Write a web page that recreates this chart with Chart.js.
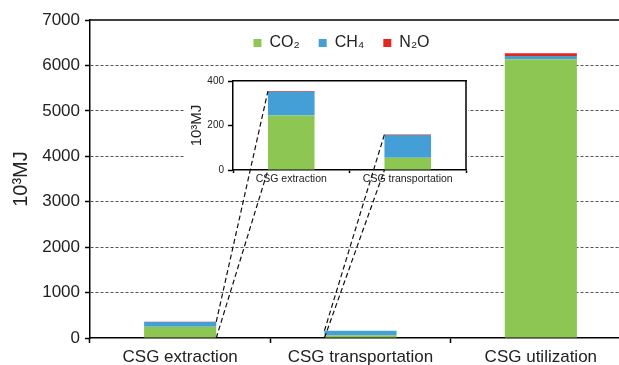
<!DOCTYPE html>
<html>
<head>
<meta charset="utf-8">
<script src="https://cdn.jsdelivr.net/npm/chart.js@4"></script>
<style>
  body { margin: 0; background: #fff; overflow: hidden; }
  #wrap { position: relative; width: 619px; height: 365px; overflow: hidden; }
  #wrap canvas { position: absolute; left: 0; top: 0; }
</style>
</head>
<body>
<div id="wrap">
  <canvas id="mainChart" width="640" height="365"></canvas>
  <canvas id="insetChart" width="640" height="365"></canvas>
</div>
<script>
// data (10^3 MJ)
const categories = ['CSG extraction', 'CSG transportation', 'CSG utilization'];
const co2 = [245, 55, 6135];
const ch4 = [107, 102, 72];
const n2o = [3, 3, 60];
const seriesNames = ['CO\u2082', 'CH\u2084', 'N\u2082O'];
const mainTicks = { min: 0, max: 7000, step: 1000 };
const insetTicks = { min: 0, max: 400, step: 200 };
const insetCount = 2; // inset zooms into first two categories

const colors = ['#8dc653', '#439fd6', '#e3261f'];
const FONT = "'Liberation Sans', Arial, sans-serif";
Chart.defaults.font.family = FONT;
Chart.defaults.color = '#222';

function makeDatasets(n) {
  return [co2, ch4, n2o].map((vals, i) => ({
    label: seriesNames[i],
    data: vals.slice(0, n),
    backgroundColor: colors[i],
    borderWidth: 0,
    barPercentage: 1,
    categoryPercentage: 0.4
  }));
}

const plainNumber = (v) => String(v);

// solid frame lines (top / right) of a chart area
const framePlugin = {
  id: 'frame',
  afterDraw(chart, args, opts) {
    const { ctx, chartArea: a } = chart;
    ctx.save();
    ctx.strokeStyle = '#000';
    ctx.lineWidth = 1.5;
    ctx.beginPath();
    if (opts.top) { ctx.moveTo(a.left, a.top); ctx.lineTo(a.right, a.top); }
    if (opts.right) { ctx.moveTo(a.right, a.top); ctx.lineTo(a.right, a.bottom); }
    ctx.stroke();
    ctx.restore();
  }
};

const mainChart = new Chart(document.getElementById('mainChart'), {
  type: 'bar',
  data: { labels: categories, datasets: makeDatasets(categories.length) },
  options: {
    responsive: false,
    animation: false,
    layout: { padding: { left: 9, right: 9, top: 20, bottom: 0 } },
    plugins: {
      legend: { display: false },
      tooltip: { enabled: false },
      frame: { top: true }
    },
    scales: {
      x: {
        stacked: true,
        afterFit: (s) => { s.height = 27; },
        grid: { drawOnChartArea: false, tickLength: 5, tickColor: '#000', tickWidth: 1.5 },
        border: { color: '#000', width: 1.5 },
        ticks: { font: { size: 17 }, padding: 4, color: '#222' }
      },
      y: {
        stacked: true,
        min: mainTicks.min,
        max: mainTicks.max,
        afterFit: (s) => { s.width = 81; },
        title: { display: true, text: '10\u00b3MJ', font: { size: 20 }, padding: 0, color: '#222' },
        ticks: { stepSize: mainTicks.step, font: { size: 17 }, padding: 5, color: '#222', callback: plainNumber },
        grid: {
          color: (c) => (c.tick && (c.tick.value === mainTicks.max || c.tick.value === 0)) ? 'rgba(0,0,0,0)' : '#555',
          lineWidth: 1,
          tickLength: 5,
          tickColor: '#000',
          tickWidth: 1.5
        },
        border: { color: '#000', width: 1.5, dash: [3, 2] }
      }
    }
  },
  plugins: [framePlugin]
});

// white panel behind the inset + dashed connectors to the main bars
const insetPlugin = {
  id: 'insetBox',
  afterLayout(chart) {
    // nudge the legend a little left, like the original
    chart.legend.left -= 8;
    chart.legend.right -= 8;
  },
  beforeDraw(chart) {
    const { ctx, chartArea: a, scales } = chart;
    ctx.save();
    ctx.fillStyle = '#fff';
    const left = scales.y.left - 4;
    const top = a.top - 12;
    ctx.fillRect(left, top, a.right + 2 - left, scales.x.bottom + 4 - top);
    ctx.restore();
  },
  afterDraw(chart) {
    const { ctx } = chart;
    const last = mainChart.data.datasets.length - 1;
    const m0 = mainChart.getDatasetMeta(0).data;
    const mTop = mainChart.getDatasetMeta(last).data;
    const i0 = chart.getDatasetMeta(0).data;
    const iTop = chart.getDatasetMeta(last).data;
    const mBase = mainChart.scales.y.getPixelForValue(0);
    const iBase = chart.scales.y.getPixelForValue(0);
    ctx.save();
    ctx.strokeStyle = '#111';
    ctx.lineWidth = 1.2;
    ctx.setLineDash([5, 3]);
    for (let k = 0; k < insetCount; k++) {
      const mb = m0[k];
      // first bar connects from its right edge, the others from their left edge
      const mx = k === 0 ? mb.x + mb.width / 2 : mb.x - mb.width / 2;
      const ix = i0[k].x - i0[k].width / 2;
      ctx.beginPath();
      ctx.moveTo(mx, mTop[k].y);
      ctx.lineTo(ix, iTop[k].y);
      ctx.moveTo(mx, mBase);
      ctx.lineTo(ix, iBase);
      ctx.stroke();
    }
    ctx.restore();
  }
};

new Chart(document.getElementById('insetChart'), {
  type: 'bar',
  data: { labels: categories.slice(0, insetCount), datasets: makeDatasets(insetCount) },
  options: {
    responsive: false,
    animation: false,
    layout: { padding: { left: 188, right: 174, top: 16, bottom: 175 } },
    plugins: {
      legend: {
        position: 'top',
        fullSize: false,
        labels: { boxWidth: 8, boxHeight: 8, padding: 19, font: { size: 16 }, color: '#222' }
      },
      tooltip: { enabled: false },
      frame: { right: true }
    },
    scales: {
      x: {
        stacked: true,
        afterFit: (s) => { s.height = 20; },
        grid: { drawOnChartArea: false, tickLength: 3, tickColor: '#000', tickWidth: 1.5 },
        border: { color: '#000', width: 1.5 },
        ticks: { font: { size: 10.5 }, padding: 0, color: '#222' }
      },
      // top axis: only its border line, drawn as the inset's top frame
      xTop: {
        position: 'top',
        afterFit: (s) => { s.height = 20; },
        grid: { display: false },
        ticks: { display: false },
        border: { color: '#000', width: 1.5 }
      },
      y: {
        stacked: true,
        min: insetTicks.min,
        max: insetTicks.max,
        afterFit: (s) => { s.width = 45; },
        title: { display: true, text: '10\u00b3MJ', font: { size: 15 }, padding: 0, color: '#222' },
        ticks: { stepSize: insetTicks.step, font: { size: 10 }, padding: 4, color: '#222' },
        grid: { drawOnChartArea: false, tickLength: 5, tickColor: '#000', tickWidth: 1.5 },
        border: { color: '#000', width: 1.5 }
      }
    }
  },
  plugins: [framePlugin, insetPlugin]
});
</script>
</body>
</html>
